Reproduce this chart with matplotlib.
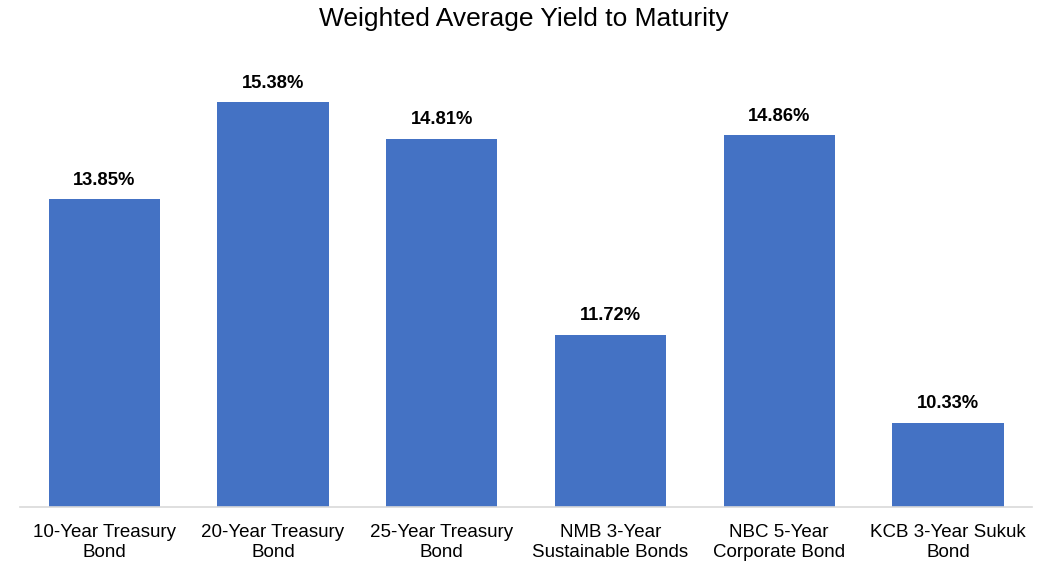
import matplotlib.pyplot as plt

plt.rcParams['font.family'] = ['Liberation Sans', 'DejaVu Sans']

categories = ['10-Year Treasury\nBond', '20-Year Treasury\nBond', '25-Year Treasury\nBond',
              'NMB 3-Year\nSustainable Bonds', 'NBC 5-Year\nCorporate Bond', 'KCB 3-Year Sukuk\nBond']
yields = [13.85, 15.38, 14.81, 11.72, 14.86, 10.33]
labels = ['13.85%', '15.38%', '14.81%', '11.72%', '14.86%', '10.33%']

blue = '#4472C4'

fig = plt.figure(figsize=(10.48, 5.64), dpi=100)
ax = fig.add_axes([0.019, 0.101, 0.966, 0.787])

x = range(len(categories))
ax.bar(x, yields, width=0.66, color=blue)
for xi, v, lab in zip(x, yields, labels):
    ax.text(xi, v + 0.17, lab, ha='center', va='bottom', fontsize=13.2, fontweight='bold')

ax.set_xlim(-0.5, len(categories) - 0.5)
ax.set_ylim(9, 16)
ax.set_xticks(list(x))
ax.set_xticklabels(categories, fontsize=13.5, linespacing=1.25)
ax.tick_params(axis='x', length=0, pad=12)
ax.set_yticks([])
for s in ['top', 'right', 'left']:
    ax.spines[s].set_visible(False)
ax.spines['bottom'].set_color('#d9d9d9')
ax.spines['bottom'].set_linewidth(1.2)

fig.suptitle('Weighted Average Yield to Maturity', fontsize=19, y=0.988)

plt.savefig('out.png', dpi=100)
plt.close()
